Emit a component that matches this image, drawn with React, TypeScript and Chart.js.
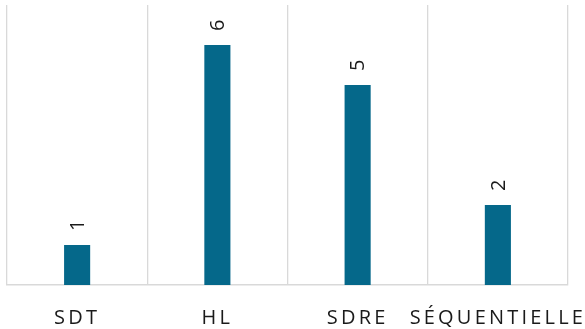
import React, { useEffect, useRef } from "react";
import { Chart, registerables } from "chart.js";

Chart.register(...registerables);

const categories = ["SDT", "HL", "SDRE", "SÉQUENTIELLE"];
const values = [1, 6, 5, 2];

const BAR_COLOR = "#05688a";
const FONT = "'Open Sans', sans-serif";

const valueLabels = {
  id: "valueLabels",
  afterDatasetsDraw(chart: any) {
    const ctx = chart.ctx;
    const meta = chart.getDatasetMeta(0);
    ctx.save();
    ctx.fillStyle = "#1a1a1a";
    ctx.font = `20px ${FONT}`;
    ctx.textAlign = "left";
    ctx.textBaseline = "middle";
    meta.data.forEach((bar: any, i: number) => {
      ctx.save();
      ctx.translate(bar.x + 1, bar.y - 14);
      ctx.rotate(-Math.PI / 2);
      ctx.fillText(String(values[i]), 0, 0);
      ctx.restore();
    });
    ctx.restore();
  },
};

const xLabels = {
  id: "xLabels",
  afterDraw(chart: any) {
    const ctx = chart.ctx;
    const x = chart.scales.x;
    ctx.save();
    ctx.fillStyle = "#1a1a1a";
    ctx.font = `20px ${FONT}`;
    (ctx as any).letterSpacing = "3.2px";
    ctx.textAlign = "center";
    ctx.textBaseline = "middle";
    categories.forEach((c, i) => {
      ctx.fillText(c, x.getPixelForValue(i), chart.chartArea.bottom + 33);
    });
    ctx.restore();
  },
};

export default function App() {
  const ref = useRef<HTMLCanvasElement>(null);
  useEffect(() => {
    document.body.style.margin = "0";
    const chart = new Chart(ref.current!, {
      type: "bar",
      data: {
        labels: categories,
        datasets: [
          {
            data: values,
            backgroundColor: BAR_COLOR,
            categoryPercentage: 1,
            barPercentage: 0.186,
          },
        ],
      },
      options: {
        animation: false,
        responsive: false,
        layout: { padding: { left: 7, right: 17, top: 5, bottom: 44 } },
        plugins: { legend: { display: false }, tooltip: { enabled: false } },
        scales: {
          x: {
            offset: true,
            grid: { offset: true, color: "#d9d9d9", lineWidth: 1.3, drawTicks: false },
            border: { color: "#d9d9d9", width: 1.5 },
            ticks: { display: false },
          },
          y: {
            display: false,
            min: 0,
            max: 7,
          },
        },
      },
      plugins: [valueLabels, xLabels],
    });
    return () => chart.destroy();
  }, []);
  return (
    <div style={{ width: 585, height: 329 }}>
      <canvas ref={ref} width={585} height={329} />
    </div>
  );
}
